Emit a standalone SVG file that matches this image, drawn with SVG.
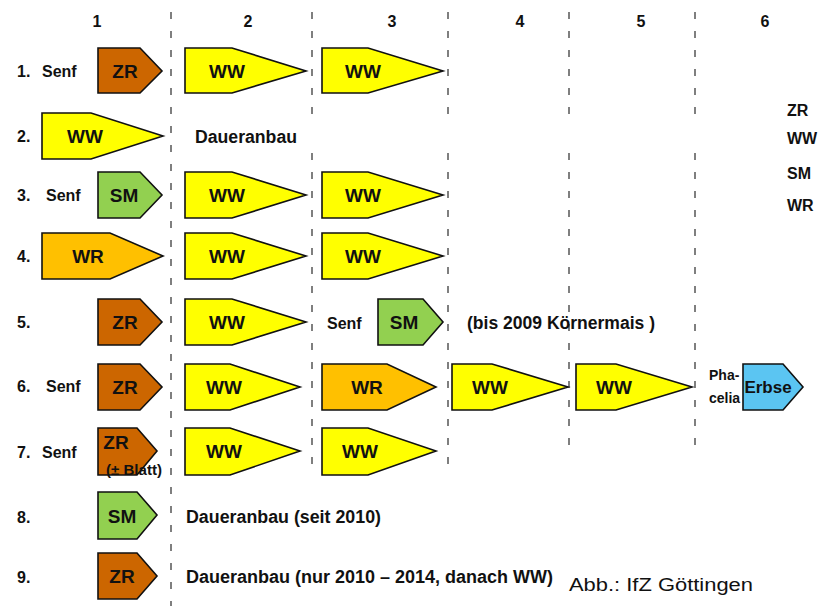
<svg xmlns="http://www.w3.org/2000/svg" width="827" height="609" viewBox="0 0 827 609">
<style>
text{font-family:"Liberation Sans","Open Sans",Arial,sans-serif;font-weight:bold;fill:#111;}
.t{font-size:19px;text-anchor:middle;}
.h{font-size:16px;text-anchor:middle;}
.l{font-size:16px;}
.m{font-size:17.5px;}
.s{font-size:14px;}
.sh{stroke:#111;stroke-width:1.6;stroke-linejoin:miter;}
.zr{fill:#cc6600;}
.ww{fill:#ffff00;}
.sm{fill:#92d050;}
.wr{fill:#ffc000;}
.er{fill:#5bc5f2;}
.dash{stroke:#7f7f7f;stroke-width:2;stroke-dasharray:7 12;fill:none;}
</style>
<rect width="827" height="609" fill="#fff"/>
<g id="grid">
<line class="dash" x1="171" y1="12" x2="171" y2="606"/>
<line class="dash" x1="312" y1="12" x2="312" y2="118"/>
<line class="dash" x1="312" y1="153" x2="312" y2="470"/>
<line class="dash" x1="448" y1="12" x2="448" y2="118"/>
<line class="dash" x1="448" y1="153" x2="448" y2="470"/>
<line class="dash" x1="569" y1="12" x2="569" y2="118"/>
<line class="dash" x1="569" y1="153" x2="569" y2="448"/>
<line class="dash" x1="695" y1="12" x2="695" y2="118"/>
<line class="dash" x1="695" y1="153" x2="695" y2="448"/>
</g>
<g id="headers">
<text class="h" x="97" y="27">1</text>
<text class="h" x="248" y="27">2</text>
<text class="h" x="392" y="27">3</text>
<text class="h" x="520" y="27">4</text>
<text class="h" x="641" y="27">5</text>
<text class="h" x="765" y="27">6</text>
</g>
<g id="legend">
<text class="l" x="787" y="116">ZR</text>
<text class="l" x="787" y="144">WW</text>
<text class="l" x="787" y="179">SM</text>
<text class="l" x="787" y="211">WR</text>
</g>
<g id="row1">
<text class="l" x="17" y="77">1.</text>
<text class="l" x="42" y="77">Senf</text>
<polygon class="sh zr" points="98,48 140,48 162,71 140,93 98,93"/>
<text class="t" x="125" y="78">ZR</text>
<polygon class="sh ww" points="185,48 232,48 306,71 232,93 185,93"/>
<text class="t" x="227" y="78">WW</text>
<polygon class="sh ww" points="322,48 368,48 443,71 368,93 322,93"/>
<text class="t" x="363" y="78">WW</text>
</g>
<g id="row2">
<text class="l" x="17" y="142">2.</text>
<polygon class="sh ww" points="42,113 91,113 163,136 91,159 42,159"/>
<text class="t" x="85" y="143">WW</text>
<text class="m" x="195" y="143" textLength="102" lengthAdjust="spacingAndGlyphs">Daueranbau</text>
</g>
<g id="row3">
<text class="l" x="17" y="201">3.</text>
<text class="l" x="46" y="201">Senf</text>
<polygon class="sh sm" points="98,172 140,172 162,195 140,218 98,218"/>
<text class="t" x="124" y="202">SM</text>
<polygon class="sh ww" points="185,172 232,172 306,195 232,218 185,218"/>
<text class="t" x="227" y="202">WW</text>
<polygon class="sh ww" points="322,172 368,172 443,195 368,218 322,218"/>
<text class="t" x="363" y="202">WW</text>
</g>
<g id="row4">
<text class="l" x="17" y="262">4.</text>
<polygon class="sh wr" points="42,233 110,233 163,256 110,279 42,279"/>
<text class="t" x="88" y="263">WR</text>
<polygon class="sh ww" points="185,233 232,233 306,256 232,279 185,279"/>
<text class="t" x="227" y="263">WW</text>
<polygon class="sh ww" points="322,233 368,233 443,256 368,279 322,279"/>
<text class="t" x="363" y="263">WW</text>
</g>
<g id="row5">
<text class="l" x="17" y="328">5.</text>
<polygon class="sh zr" points="98,299 140,299 162,322 140,345 98,345"/>
<text class="t" x="125" y="329">ZR</text>
<polygon class="sh ww" points="185,299 232,299 306,322 232,345 185,345"/>
<text class="t" x="227" y="329">WW</text>
<text class="l" x="327" y="329">Senf</text>
<polygon class="sh sm" points="378,299 423,299 443,322 423,345 378,345"/>
<text class="t" x="404" y="329">SM</text>
<text class="m" x="467" y="329" textLength="188" lengthAdjust="spacingAndGlyphs">(bis 2009 Körnermais )</text>
</g>
<g id="row6">
<text class="l" x="17" y="392">6.</text>
<text class="l" x="46" y="392">Senf</text>
<polygon class="sh zr" points="98,364 140,364 162,387 140,410 98,410"/>
<text class="t" x="125" y="394">ZR</text>
<polygon class="sh ww" points="185,364 230,364 300,387 230,410 185,410"/>
<text class="t" x="224" y="394">WW</text>
<polygon class="sh wr" points="322,364 387,364 436,387 387,410 322,410"/>
<text class="t" x="367" y="394">WR</text>
<polygon class="sh ww" points="452,364 492,364 568,387 492,410 452,410"/>
<text class="t" x="490" y="394">WW</text>
<polygon class="sh ww" points="576,364 616,364 692,387 616,410 576,410"/>
<text class="t" x="614" y="394">WW</text>
<text class="s" x="709" y="380">Pha-</text>
<text class="s" x="709" y="403">celia</text>
<polygon class="sh er" points="743,364 783,364 803,387 783,410 743,410"/>
<text class="t" x="768" y="393" style="font-size:17px">Erbse</text>
</g>
<g id="row7">
<text class="l" x="17" y="458">7.</text>
<text class="l" x="42" y="458">Senf</text>
<polygon class="sh zr" points="98,428 137,428 157,451 137,475 98,475"/>
<text class="t" x="116" y="449">ZR</text>
<text class="s" x="106" y="475" textLength="56" lengthAdjust="spacingAndGlyphs">(± Blatt)</text>
<polygon class="sh ww" points="185,428 230,428 300,451 230,475 185,475"/>
<text class="t" x="224" y="458">WW</text>
<polygon class="sh ww" points="322,428 368,428 436,451 368,475 322,475"/>
<text class="t" x="360" y="458">WW</text>
</g>
<g id="row8">
<text class="l" x="17" y="523">8.</text>
<polygon class="sh sm" points="98,492 137,492 157,515 137,539 98,539"/>
<text class="t" x="122" y="523">SM</text>
<text class="m" x="186" y="523" textLength="195" lengthAdjust="spacingAndGlyphs">Daueranbau (seit 2010)</text>
</g>
<g id="row9">
<text class="l" x="17" y="583">9.</text>
<polygon class="sh zr" points="98,553 137,553 157,576 137,599 98,599"/>
<text class="t" x="122" y="583">ZR</text>
<text class="m" x="186" y="583" textLength="367" lengthAdjust="spacingAndGlyphs">Daueranbau (nur 2010 – 2014, danach WW)</text>
</g>
<text x="569" y="591" style="font-weight:normal;font-size:18px" textLength="184" lengthAdjust="spacingAndGlyphs">Abb.: IfZ Göttingen</text>
</svg>
